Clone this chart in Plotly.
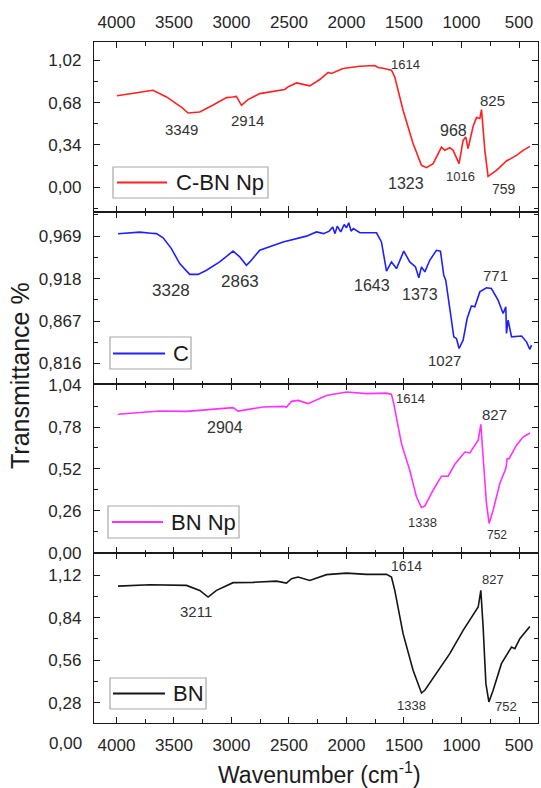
import plotly.graph_objects as go

# ---------------- data ----------------
wn_cbn = [3995, 3682, 3565, 3430, 3377, 3276, 3163, 3043, 2989, 2957, 2913, 2856, 2754, 2667, 2609,
          2537, 2508, 2435, 2319, 2232, 2160, 2130, 2030, 1884, 1754, 1725, 1682, 1609, 1580, 1508,
          1421, 1348, 1304, 1247, 1174, 1145, 1102, 1073, 1021, 986, 963, 943, 899, 870, 841, 826,
          797, 769, 696, 609, 522, 464, 406]
t_cbn = [0.735, 0.779, 0.725, 0.640, 0.596, 0.604, 0.658, 0.720, 0.725, 0.730, 0.658, 0.704, 0.752, 0.766, 0.773,
         0.785, 0.806, 0.838, 0.814, 0.865, 0.922, 0.914, 0.954, 0.972, 0.978, 0.962, 0.956, 0.940, 0.886, 0.618,
         0.350, 0.175, 0.156, 0.189, 0.322, 0.296, 0.317, 0.296, 0.189, 0.376, 0.403, 0.309, 0.489, 0.559, 0.551, 0.623,
         0.296, 0.086, 0.135, 0.210, 0.255, 0.296, 0.328]

wn_c = [3986, 3900, 3797, 3700, 3652, 3594, 3522, 3450, 3363, 3290, 3217, 3102, 2986, 2928, 2870, 2840, 2754,
        2551, 2421, 2348, 2261, 2200, 2150, 2120, 2100, 2080, 2050, 2020, 2000, 1980, 1960, 1940, 1884, 1739,
        1696, 1652, 1609, 1565, 1502, 1450, 1400, 1371, 1348, 1319, 1276, 1218, 1183, 1154, 1137, 1102, 1067,
        1044, 1021, 986, 951, 914, 884, 841, 783, 740, 682, 638, 615, 609, 595, 565, 478, 435, 406, 391]
t_c = [0.9719, 0.9730, 0.9738, 0.9725, 0.9720, 0.967, 0.954, 0.936, 0.923, 0.923, 0.928, 0.938, 0.951, 0.944,
       0.934, 0.938, 0.952, 0.962, 0.967, 0.969, 0.974, 0.972, 0.975, 0.980, 0.972, 0.981, 0.974, 0.983, 0.979,
       0.985, 0.975, 0.978, 0.973, 0.973, 0.962, 0.927, 0.938, 0.930, 0.951, 0.938, 0.932, 0.919, 0.932, 0.926,
       0.940, 0.952, 0.951, 0.922, 0.916, 0.880, 0.848, 0.846, 0.834, 0.844, 0.870, 0.885, 0.884, 0.902, 0.907,
       0.906, 0.892, 0.876, 0.884, 0.852, 0.868, 0.848, 0.849, 0.842, 0.833, 0.838]

wn_bnnp = [3986, 3623, 3391, 2986, 2943, 2870, 2725, 2551, 2522, 2478, 2421, 2334, 2174, 2000, 1826, 1652,
           1609, 1589, 1522, 1450, 1392, 1348, 1319, 1247, 1174, 1116, 1058, 971, 928, 855, 832, 812, 783,
           760, 725, 667, 615, 603, 586, 522, 464, 406]
t_bnnp = [0.859, 0.879, 0.877, 0.900, 0.879, 0.888, 0.904, 0.908, 0.904, 0.939, 0.945, 0.925, 0.976, 0.997,
          0.987, 0.990, 0.982, 0.925, 0.677, 0.512, 0.347, 0.281, 0.289, 0.388, 0.475, 0.475, 0.549, 0.625,
          0.619, 0.698, 0.797, 0.594, 0.306, 0.182, 0.264, 0.430, 0.522, 0.584, 0.584, 0.667, 0.718, 0.743]

wn_bn = [3986, 3710, 3391, 3276, 3203, 3130, 2986, 2812, 2609, 2551, 2522, 2478, 2421, 2319, 2174, 2000,
         1826, 1652, 1609, 1580, 1508, 1421, 1348, 1319, 1218, 1102, 986, 855, 832, 812, 788, 762, 725, 653,
         565, 536, 493, 406]
t_bn = [1.049, 1.058, 1.054, 1.021, 0.977, 1.021, 1.072, 1.074, 1.082, 1.072, 1.069, 1.098, 1.109, 1.087,
        1.125, 1.135, 1.127, 1.127, 1.109, 1.021, 0.735, 0.493, 0.343, 0.361, 0.471, 0.603, 0.757, 0.911,
        1.021, 0.779, 0.405, 0.284, 0.361, 0.537, 0.647, 0.636, 0.702, 0.783]

series_names = ["C-BN Np", "C", "BN Np", "BN"]

x_tickvals = [4000, 3500, 3000, 2500, 2000, 1500, 1000, 500]
x_ticktext = ["4000", "3500", "3000", "2500", "2000", "1500", "1000", "500"]

y1_tickvals = [0.0, 0.34, 0.68, 1.02]
y1_ticktext = ["0,00", "0,34", "0,68", "1,02"]
y2_tickvals = [0.816, 0.867, 0.918, 0.969]
y2_ticktext = ["0,816", "0,867", "0,918", "0,969"]
y3_tickvals = [0.0, 0.26, 0.52, 0.78, 1.04]
y3_ticktext = ["0,00", "0,26", "0,52", "0,78", "1,04"]
y4_tickvals = [0.28, 0.56, 0.84, 1.12]
y4_ticktext = ["0,28", "0,56", "0,84", "1,12"]

# peak labels: (text, wavenumber, value, font size)
peaks1 = [("3349", 3430, 0.462, 15), ("2914", 2864, 0.537, 15), ("1614", 1487, 0.986, 13),
          ("825", 733, 0.699, 15), ("968", 1073, 0.457, 16), ("1323", 1479, 0.027, 16),
          ("1016", 1009, 0.086, 13), ("759", 630, -0.019, 14)]
peaks2 = [("3328", 3522, 0.904, 17), ("2863", 2928, 0.914, 17), ("1643", 1777, 0.910, 16),
          ("1373", 1357, 0.899, 16), ("1027", 1145, 0.820, 15), ("771", 708, 0.922, 15)]
peaks3 = [("2904", 3058, 0.780, 16), ("1614", 1443, 0.959, 13), ("827", 713, 0.857, 15),
          ("1338", 1342, 0.186, 13), ("752", 693, 0.110, 12)]
peaks4 = [("3211", 3304, 0.882, 15), ("1614", 1474, 1.179, 14), ("827", 725, 1.092, 13),
          ("1338", 1435, 0.262, 13), ("752", 617, 0.257, 13)]

# ---------------- figure ----------------
W, H = 541, 788
ML, MR, MT, MB = 94, 3, 42, 65
PW, PH = W - ML - MR, H - MT - MB
FONT = "Liberation Sans, Arial, sans-serif"

def px2paper(x, y):
    return (x - ML) / PW, (H - MB - y) / PH

colors = ["#ff2020", "#2020ff", "#ff30ff", "#151515"]
xs = [wn_cbn, wn_c, wn_bnnp, wn_bn]
ys = [t_cbn, t_c, t_bnnp, t_bn]

fig = go.Figure()
for i in range(4):
    fig.add_trace(go.Scatter(
        x=xs[i], y=ys[i], mode="lines", name=series_names[i],
        line=dict(color=colors[i], width=1.6),
        xaxis="x" if i == 0 else f"x{i+1}", yaxis="y" if i == 0 else f"y{i+1}",
        showlegend=False,
    ))

AX = "#1a1a1a"
TICKFONT = dict(family=FONT, size=17, color="#262626")
xrange_ = [4195, 335]

def xaxis(i):
    d = dict(
        domain=[0, 1], range=xrange_, anchor="y" if i == 1 else f"y{i}",
        showline=True, linecolor=AX, linewidth=1.4, mirror="ticks",
        ticks="inside", ticklen=6, tickwidth=1.4, tickcolor=AX,
        tickmode="array", tickvals=x_tickvals, ticktext=x_ticktext,
        minor=dict(ticks="inside", ticklen=3.5, tickwidth=1.2, tickcolor=AX,
                   tickmode="linear", tick0=250, dtick=500, showgrid=False),
        showgrid=False, zeroline=False, tickfont=TICKFONT, ticklabelstandoff=6,
        automargin=False,
    )
    if i == 1:
        d["side"] = "top"
        d["showticklabels"] = True
    elif i == 4:
        d["side"] = "bottom"
        d["showticklabels"] = True
    else:
        d["showticklabels"] = False
    if i > 1:
        d["matches"] = "x"
    return d

domains = [[0.7504, 1.0], [0.4974, 0.7504], [0.2492, 0.4974], [0.0, 0.2492]]
yranges = [[-0.20, 1.167], [0.791, 0.998], [-0.003, 1.045], [0.145, 1.266]]
ytv = [y1_tickvals, y2_tickvals, y3_tickvals, y4_tickvals]
ytt = [y1_ticktext, y2_ticktext, y3_ticktext, y4_ticktext]
minor_specs = [(0.0, 0.17), (0.816, 0.0255), (0.0, 0.13), (0.0, 0.14)]

def yaxis(i):
    t0, dt = minor_specs[i - 1]
    return dict(
        domain=domains[i - 1], range=yranges[i - 1], anchor="x" if i == 1 else f"x{i}",
        showline=True, linecolor=AX, linewidth=1.4, mirror="ticks",
        ticks="inside", ticklen=6, tickwidth=1.4, tickcolor=AX,
        tickmode="array", tickvals=ytv[i - 1], ticktext=ytt[i - 1],
        minor=dict(ticks="inside", ticklen=3.5, tickwidth=1.2, tickcolor=AX,
                   tickmode="linear", tick0=t0, dtick=dt, showgrid=False),
        showgrid=False, zeroline=False, tickfont=TICKFONT, ticklabelstandoff=8,
        automargin=False,
    )

layout = dict(
    width=W, height=H,
    margin=dict(l=ML, r=MR, t=MT, b=MB),
    paper_bgcolor="white", plot_bgcolor="white",
    font=dict(family=FONT, color="#262626"),
    showlegend=False,
)
for i in range(1, 5):
    layout["xaxis" if i == 1 else f"xaxis{i}"] = xaxis(i)
    layout["yaxis" if i == 1 else f"yaxis{i}"] = yaxis(i)

# legend boxes drawn per panel (pixel boxes: x0, x1, y0, y1, line x0, line x1, line y, text x)
legend_boxes = [
    (113, 268, 167, 198, 117, 167, 182.5, 174),
    (110, 191, 337, 369, 113, 165, 353.5, 171),
    (108, 239, 506, 538, 112, 163, 522, 169),
    (110, 206, 678, 709, 113, 165, 693.5, 171),
]
shapes = []
annotations = []
for i, (bx0, bx1, by0, by1, lx0, lx1, ly, tx) in enumerate(legend_boxes):
    x0, y0 = px2paper(bx0, by1)
    x1, y1 = px2paper(bx1, by0)
    shapes.append(dict(type="rect", xref="paper", yref="paper", x0=x0, x1=x1, y0=y0, y1=y1,
                       line=dict(color="#a8a8a8", width=1.2), fillcolor="white", layer="above"))
    a0, yy = px2paper(lx0, ly)
    a1, _ = px2paper(lx1, ly)
    shapes.append(dict(type="line", xref="paper", yref="paper", x0=a0, x1=a1, y0=yy, y1=yy,
                       line=dict(color=colors[i], width=1.8), layer="above"))
    tx_p, _ = px2paper(tx, ly)
    annotations.append(dict(text=series_names[i], x=tx_p, y=yy, xref="paper", yref="paper",
                            xanchor="left", yanchor="middle", showarrow=False,
                            font=dict(family=FONT, size=22, color="#1a1a1a")))

for pi, peaks in enumerate([peaks1, peaks2, peaks3, peaks4]):
    xr = "x" if pi == 0 else f"x{pi+1}"
    yr = "y" if pi == 0 else f"y{pi+1}"
    for txt, px, py, fs in peaks:
        annotations.append(dict(
            text=txt, x=px, y=py, xref=xr, yref=yr, showarrow=False,
            xanchor="center", yanchor="middle",
            font=dict(family=FONT, size=fs, color="#333333"),
        ))

# out-of-range tick label of the bottom panel
zx, zy = px2paper(84, 743)
annotations.append(dict(text="0,00", x=zx, y=zy, xref="paper", yref="paper",
                        xanchor="right", yanchor="middle", showarrow=False, font=TICKFONT))
# axis titles
tx_, ty_ = px2paper(20, 376)
annotations.append(dict(text="Transmittance %", x=tx_, y=ty_, xref="paper", yref="paper",
                        textangle=-90, showarrow=False, xanchor="center", yanchor="middle",
                        font=dict(family=FONT, size=25, color="#1a1a1a")))
bx_, by_ = px2paper(319, 773)
annotations.append(dict(text="Wavenumber (cm<sup>-1</sup>)", x=bx_, y=by_, xref="paper", yref="paper",
                        showarrow=False, xanchor="center", yanchor="middle",
                        font=dict(family=FONT, size=23, color="#1a1a1a")))
layout["annotations"] = annotations
layout["shapes"] = shapes

fig.update_layout(**layout)
fig.write_html("out.html", config=dict(displayModeBar=False),
               post_script="document.body.style.margin='0';document.body.style.overflow='hidden';")
